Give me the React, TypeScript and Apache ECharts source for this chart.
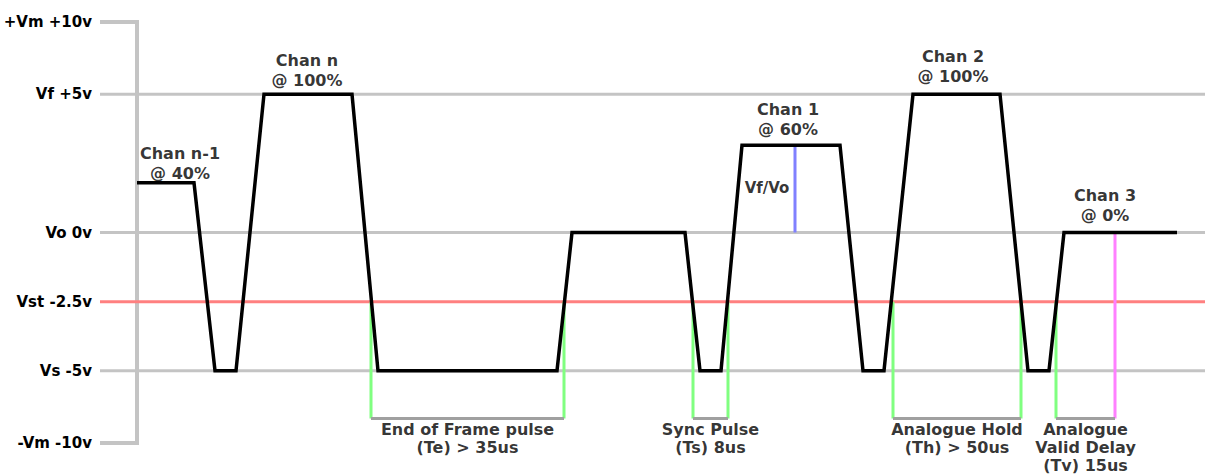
import React, { useEffect, useRef } from "react";
import * as echarts from "echarts";

// Voltage levels (y axis) and their labels
const LEVELS = [10, 5, 0, -2.5, -5, -10];
const LEVEL_LABELS = ["+Vm +10v", "Vf +5v", "Vo 0v", "Vst -2.5v", "Vs -5v", "-Vm -10v"];
const GRID_LEVELS = [5, 0, -5];
const THRESHOLD_LEVEL = -2.5;

// Time axis (arbitrary schematic units)
const T_MAX = 1105;
const AXIS_T = 37;

// Waveform vertices
const WAVE_T = [37, 94, 115, 136, 164, 252, 278, 457, 472, 585, 600, 621, 642, 740, 763, 784, 813, 900, 928, 949, 964, 1077];
const WAVE_V = [1.8, 1.8, -5, -5, 5, 5, -5, -5, 0, 0, -5, -5, 3.15, 3.15, -5, -5, 5, 5, -5, -5, 0, 0];

// Threshold crossings (green markers), valid marker (magenta), Vf/Vo marker (blue)
const CROSS_T = [271, 464, 593, 628, 793, 921, 956];
const VALID_T = 1015;
const VFVO_T = 695;
const VFVO_TOP = 3.15;

// Timing brackets
const BRACKET_V = -8.3;
const BRACKET_START = [271, 593, 793, 956];
const BRACKET_END = [464, 628, 921, 1015];
const BRACKET_LABELS = [
  "End of Frame pulse\n(Te) > 35us",
  "Sync Pulse\n(Ts) 8us",
  "Analogue Hold\n(Th) > 50us",
  "Analogue\nValid Delay\n(Tv) 15us",
];

// Channel labels
const CHAN_LABELS = ["Chan n-1\n@ 40%", "Chan n\n@ 100%", "Chan 1\n@ 60%", "Chan 2\n@ 100%", "Chan 3\n@ 0%"];
const CHAN_T = [80, 207, 688, 853, 1005];
const CHAN_V = [1.8, 5, 3.15, 5, 0];
const CHAN_GAP = [-1, 3, 5, 7, 7];

const VFVO_LABEL = "Vf/Vo";
const VFVO_LABEL_T = 667;
const VFVO_LABEL_V = 1.6;

// schematic scale: beyond ±5 V the axis is compressed
const OUTER = 0.522;
const Y = (v: number) =>
  Math.abs(v) <= 5 ? v : Math.sign(v) * (5 + (Math.abs(v) - 5) * OUTER);

const AXIS_FONT = { fontFamily: "DejaVu Sans", fontWeight: "bold" as const, fontSize: 15, color: "#000" };
const NOTE_FONT = { fontFamily: "DejaVu Sans", fontWeight: "bold" as const, fontSize: 16, color: "#000" };

function seg(data: any[], color: string, width: number, z: number) {
  return {
    type: "line",
    data,
    symbol: "none",
    silent: true,
    z,
    lineStyle: { color, width, cap: "butt", join: "miter" },
  };
}

export default function App() {
  const ref = useRef<HTMLDivElement>(null);
  useEffect(() => {
    if (!ref.current) return;
    const chart = echarts.init(ref.current, null, { renderer: "svg" });
    const series: any[] = [];

    // axis frame
    series.push(
      seg(
        [
          [0, Y(10)],
          [AXIS_T, Y(10)],
          [AXIS_T, Y(-10)],
          [0, Y(-10)],
        ],
        "#c4c4c4",
        4,
        1
      )
    );
    GRID_LEVELS.forEach((v) => series.push(seg([[0, Y(v)], [T_MAX, Y(v)]], "#c4c4c4", 3, 1)));
    series.push(seg([[0, Y(THRESHOLD_LEVEL)], [T_MAX, Y(THRESHOLD_LEVEL)]], "#ff8080", 3, 2));

    CROSS_T.forEach((t) =>
      series.push(seg([[t, Y(THRESHOLD_LEVEL)], [t, Y(BRACKET_V)]], "#80ff80", 3, 3))
    );
    series.push(seg([[VALID_T, Y(0)], [VALID_T, Y(BRACKET_V)]], "#ff80ff", 3, 3));
    series.push(seg([[VFVO_T, Y(VFVO_TOP)], [VFVO_T, Y(0)]], "#8080ff", 3, 3));

    BRACKET_START.forEach((s, i) =>
      series.push(seg([[s, Y(BRACKET_V)], [BRACKET_END[i], Y(BRACKET_V)]], "#a0a0a0", 3, 3))
    );

    series.push(
      seg(
        WAVE_T.map((t, i) => [t, Y(WAVE_V[i])]),
        "#000000",
        3.5,
        5
      )
    );

    const labelData: any[] = [];
    CHAN_LABELS.forEach((txt, i) =>
      labelData.push({
        value: [CHAN_T[i], Y(CHAN_V[i])],
        label: { show: true, formatter: txt, position: "top", distance: CHAN_GAP[i], ...NOTE_FONT, lineHeight: 20, align: "center" },
      })
    );
    BRACKET_LABELS.forEach((txt, i) =>
      labelData.push({
        value: [(BRACKET_START[i] + BRACKET_END[i]) / 2, Y(BRACKET_V)],
        label: { show: true, formatter: txt, position: "bottom", distance: 2, ...NOTE_FONT, lineHeight: 18, align: "center" },
      })
    );
    labelData.push({
      value: [VFVO_LABEL_T, Y(VFVO_LABEL_V)],
      label: { show: true, formatter: VFVO_LABEL, position: "inside", ...AXIS_FONT, lineHeight: 19 },
    });

    series.push({
      type: "scatter",
      data: labelData,
      symbolSize: 1,
      itemStyle: { color: "transparent" },
      silent: true,
      z: 10,
    });

    chart.setOption({
      animation: false,
      grid: { left: 100, right: 0, top: 22, bottom: 33 },
      xAxis: {
        type: "value",
        min: 0,
        max: T_MAX,
        show: false,
      },
      yAxis: {
        type: "value",
        min: Y(-10),
        max: Y(10),
        axisLine: { show: false },
        axisTick: { show: false },
        splitLine: { show: false },
        axisLabel: {
          customValues: LEVELS.map(Y),
          margin: 8,
          ...AXIS_FONT,
          formatter: (val: number) => {
            const i = LEVELS.findIndex((l) => Math.abs(Y(l) - val) < 1e-6);
            return i >= 0 ? LEVEL_LABELS[i] : "";
          },
        },
      },
      series,
    });
    return () => chart.dispose();
  }, []);
  return (
    <div
      ref={ref}
      style={{ position: "fixed", left: 0, top: 0, width: 1205, height: 476, background: "#fff" }}
    />
  );
}
